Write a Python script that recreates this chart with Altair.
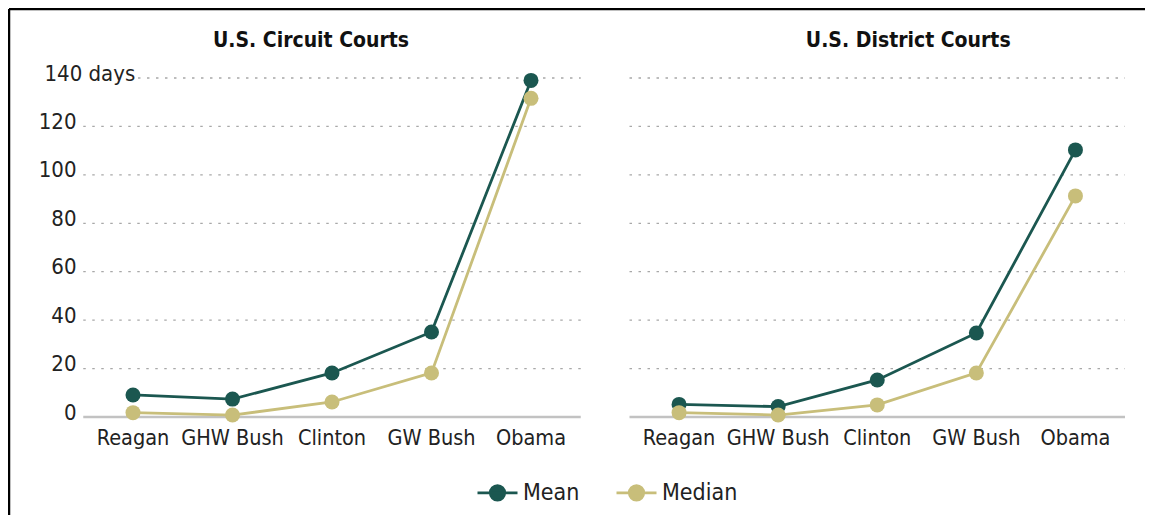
import altair as alt
import pandas as pd

presidents = ["Reagan", "GHW Bush", "Clinton", "GW Bush", "Obama"]
circuit_mean = [9.1, 7.4, 18.2, 35.1, 139.0]
circuit_median = [1.8, 0.8, 6.2, 18.2, 131.6]
district_mean = [5.2, 4.3, 15.3, 34.7, 110.3]
district_median = [1.8, 0.8, 5.0, 18.2, 91.3]
series = ["Mean", "Median"]
series_colors = ["#1b5750", "#c8be7a"]
grid_values = [20, 40, 60, 80, 100, 120]
top_grid = [140]
tick_values = [0, 20, 40, 60, 80, 100, 120, 140]
panel_titles = ["U.S. Circuit Courts", "U.S. District Courts"]

FONT = "DejaVu Sans Condensed, sans-serif"
W, H = 1136, 506
Y0 = 408
yscale = alt.Scale(domain=[0, 140], range=[Y0, 69], nice=False, zero=True)

yaxis = alt.Axis(
    orient="left", offset=-70, grid=False, domain=False, ticks=False,
    values=tick_values, title=None,
    labelExpr="datum.value == 140 ? '140 days' : datum.label",
    labelAlign={"condition": {"test": "datum.value == 140", "value": "left"}, "value": "right"},
    labelPadding={"condition": {"test": "datum.value == 140", "value": 35}, "value": 3},
    labelBaseline="alphabetic", labelOffset=2,
    labelFont=FONT, labelFontSize=22, labelColor="#222222",
)

color = alt.Color(
    "series:N",
    scale=alt.Scale(domain=series, range=series_colors),
    legend=alt.Legend(
        orient="none", legendX=467, legendY=462, direction="horizontal", title=None,
        symbolType="M-1,0H1M0.36,0A0.36,0.36,0,1,1,-0.36,0A0.36,0.36,0,1,1,0.36,0",
        symbolSize=1600, symbolStrokeWidth=2.8, symbolOpacity=1,
        labelFont=FONT, labelFontSize=23,
        labelColor="#222222", labelOffset=4, columnPadding=30,
    ),
)


def panel(mean, median, rng, title, title_dx, top_start):
    rows = []
    for s, vals in zip(series, [mean, median]):
        for p, v in zip(presidents, vals):
            rows.append({"pres": p, "series": s, "value": v})
    df = pd.DataFrame(rows)
    grid = pd.DataFrame({"g": grid_values, "x0": presidents[0], "x1": presidents[-1]})
    grid_top = pd.DataFrame({"g": top_grid, "x0": presidents[0], "x1": presidents[-1]})
    base0 = pd.DataFrame({"g": [0], "x0": presidents[0], "x1": presidents[-1]})
    tdf = pd.DataFrame({"pres": ["Clinton"], "t": [title]})

    xscale = alt.Scale(type="band", domain=presidents, range=rng, paddingInner=0, paddingOuter=0)
    xaxis = alt.Axis(
        orient="bottom", offset=Y0 - H, title=None, labelAngle=0, domain=False, ticks=False,
        grid=False, labelPadding=10, labelFont=FONT, labelFontSize=21.5, labelColor="#222222",
    )
    y_g = alt.Y("g:Q", scale=yscale, axis=yaxis)
    grid_mark = dict(color="#a8a8a8", strokeWidth=1.3, strokeDash=[2.5, 6.5])

    gridlines = alt.Chart(grid).mark_rule(**grid_mark).encode(
        x=alt.X("x0:N", scale=xscale, axis=xaxis, bandPosition=0),
        x2=alt.X2("x1:N", bandPosition=1),
        y=y_g,
    )
    gridline_top = alt.Chart(grid_top).mark_rule(**grid_mark).encode(
        x=alt.X("x0:N", scale=xscale, axis=xaxis, bandPosition=top_start),
        x2=alt.X2("x1:N", bandPosition=1),
        y=y_g,
    )
    baseline = alt.Chart(base0).mark_rule(color="#c2c2c2", strokeWidth=2.5).encode(
        x=alt.X("x0:N", scale=xscale, axis=xaxis, bandPosition=0),
        x2=alt.X2("x1:N", bandPosition=1),
        y=y_g,
    )
    x = alt.X("pres:N", scale=xscale, axis=xaxis, sort=presidents)
    y = alt.Y("value:Q", scale=yscale, axis=yaxis)
    lines = alt.Chart(df).mark_line(strokeWidth=2.8).encode(x=x, y=y, color=color)
    points = alt.Chart(df).mark_circle(size=225, opacity=1).encode(x=x, y=y, color=color)
    ttl = alt.Chart(tdf).mark_text(
        font=FONT, fontSize=21, fontWeight="bold", color="#111111",
        baseline="alphabetic", align="center", dx=title_dx,
    ).encode(x=x, y=alt.value(38), text="t:N")
    return alt.layer(gridlines, gridline_top, baseline, lines, points, ttl)


left = panel(circuit_mean, circuit_median, [74.25, 571.75], panel_titles[0], -21, 0.55)
right = panel(district_mean, district_median, [620.5, 1116], panel_titles[1], 31, 0)

frame_top = alt.Chart(pd.DataFrame({"f": [0]})).mark_rule(color="#000000", strokeWidth=2.5).encode(
    x=alt.value(0), x2=alt.value(W), y=alt.value(0)
)
frame_left = alt.Chart(pd.DataFrame({"f": [0]})).mark_rule(color="#000000", strokeWidth=2.5).encode(
    x=alt.value(0), y=alt.value(0), y2=alt.value(H)
)

chart = alt.layer(left, right, frame_top, frame_left).resolve_scale(x="independent").properties(
    width=W, height=H,
    padding={"left": 1, "top": 1, "right": 0, "bottom": 1},
    autosize=alt.AutoSizeParams(type="none"),
    background="white",
).configure_view(stroke=None)

chart.save("out.html", embed_options={"renderer": "svg", "actions": False})
